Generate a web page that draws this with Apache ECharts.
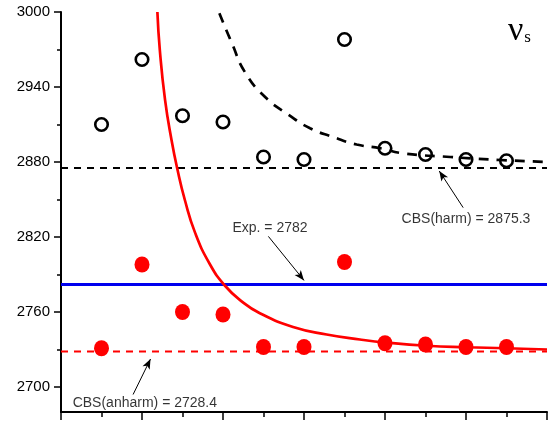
<!DOCTYPE html>
<html>
<head>
<meta charset="utf-8">
<script src="https://cdn.jsdelivr.net/npm/echarts@6/dist/echarts.min.js"></script>
<style>html,body{margin:0;padding:0;background:#fff}#c{width:553px;height:425px}</style>
</head>
<body>
<div id="c"></div>
<script>
// ---- data ----
var xIndex = [1, 2, 3, 4, 5, 6, 7, 8, 9, 10, 11];
var harmValues = [2910, 2962, 2917, 2912, 2884, 2882, 2978, 2891, 2886, 2882, 2881];
var anharmValues = [2731, 2798, 2760, 2758, 2732, 2732, 2800, 2735, 2734, 2732, 2732];
var cbsHarm = 2875.3;
var cbsAnharm = 2728.4;
var expValue = 2782;
// fitted curves [x, y]
var anharmFitX = [2.38, 2.44, 2.57, 2.73, 2.87, 3.06, 3.31, 3.68, 4.05, 4.46, 4.91, 5.73, 6.56, 7.38, 8.04, 9.03, 10.02, 11.0, 12.0];
var anharmFitY = [3000, 2969.6, 2929.5, 2897.4, 2874.8, 2849.4, 2823.5, 2798, 2781, 2768.5, 2759, 2748, 2742, 2738, 2735.5, 2733, 2731.8, 2731, 2730];
var harmFitX = [3.91, 4.22, 4.54, 5.04, 5.61, 6.15, 6.72, 7.30, 7.88, 8.44, 9.61, 10.84, 12.0];
var harmFitY = [2999, 2975, 2952, 2932, 2918, 2907, 2900, 2894, 2891, 2887, 2884, 2881.6, 2880];
var yMajorTicks = [2700, 2760, 2820, 2880, 2940, 3000];
var yMinorTicks = [2730, 2790, 2850, 2910, 2970];
var annText = ['Exp. = 2782', 'CBS(harm) = 2875.3', 'CBS(anharm) = 2728.4'];
var annTextPos = [[5.16, 2827], [10.0, 2834], [2.07, 2686.7]];
var annArrowFrom = [[5.12, 2820.5], [9.93, 2843.5], [1.78, 2694]];
var annArrowTo = [[6.0, 2785.3], [9.34, 2872.8], [2.21, 2722.4]];

function zip(a, b) { return a.map(function (v, i) { return [v, b[i]]; }); }
function hline(v) { return [[0, v], [12, v]]; }

var chart = echarts.init(document.getElementById('c'), null, { renderer: 'canvas' });
var font = 'Liberation Sans, Arial, sans-serif';

var option = {
  animation: false,
  backgroundColor: '#fff',
  grid: { left: 61, right: 6, top: 12, bottom: 13, containLabel: false },
  xAxis: {
    type: 'value', min: 0, max: 12, interval: 2,
    axisLine: { show: true, onZero: false, lineStyle: { color: '#000', width: 2 } },
    axisTick: { show: true, length: 8, lineStyle: { color: '#000', width: 1.5 } },
    minorTick: { show: true, splitNumber: 2, length: 5, lineStyle: { color: '#000', width: 1.5 } },
    axisLabel: { show: false },
    splitLine: { show: false }
  },
  yAxis: [{
    type: 'value', min: 2680, max: 3000,
    axisLine: { show: true, onZero: false, lineStyle: { color: '#000', width: 2 } },
    axisTick: { show: true, customValues: yMajorTicks, length: 7, lineStyle: { color: '#000', width: 1.5 } },
    axisLabel: { show: true, customValues: yMajorTicks, color: '#000', fontSize: 15, fontFamily: font, margin: 11,
      formatter: function (v) { return String(v); } },
    splitLine: { show: false }
  }, {
    type: 'value', min: 2680, max: 3000, position: 'left',
    axisLine: { show: false },
    axisTick: { show: true, customValues: yMinorTicks, length: 4, lineStyle: { color: '#000', width: 1.5 } },
    axisLabel: { show: false },
    splitLine: { show: false }
  }],
  series: [
    { type: 'line', data: hline(cbsHarm), symbol: 'none', z: 2,
      lineStyle: { color: '#000', width: 2, type: [7, 6] } },
    { type: 'line', data: hline(cbsAnharm), symbol: 'none', z: 2,
      lineStyle: { color: '#f00', width: 2, type: [7, 6] } },
    { type: 'line', data: hline(expValue), symbol: 'none', z: 2,
      lineStyle: { color: '#0000ee', width: 3 } },
    { type: 'line', data: zip(anharmFitX, anharmFitY), symbol: 'none', smooth: 0.5, z: 3,
      lineStyle: { color: '#f00', width: 2.7 } },
    { type: 'line', data: zip(harmFitX, harmFitY), symbol: 'none', smooth: 0.5, z: 3,
      lineStyle: { color: '#000', width: 2.7, type: [10, 8] } },
    { type: 'scatter', data: zip(xIndex, harmValues), symbol: 'circle', symbolSize: 12.5, z: 5,
      itemStyle: { color: 'rgba(0,0,0,0)', borderColor: '#000', borderWidth: 2.6, opacity: 1 } },
    { type: 'scatter', data: zip(xIndex, anharmValues), symbol: 'circle', symbolSize: [15, 16], z: 5,
      itemStyle: { color: '#f00', opacity: 1 } },
    { type: 'scatter', data: annTextPos.map(function (p, i) { return { value: p, name: annText[i] }; }),
      symbolSize: 0, silent: true, z: 6,
      label: { show: true, position: 'inside', formatter: '{b}', color: '#000', fontSize: 14, fontFamily: font },
      markLine: {
        silent: true, symbol: ['none', 'arrow'], symbolSize: [6, 10], animation: false,
        label: { show: false },
        lineStyle: { color: '#000', width: 1, type: 'solid' },
        data: annArrowFrom.map(function (p, i) { return [{ coord: p }, { coord: annArrowTo[i] }]; })
      }
    }
  ],
  graphic: [{
    type: 'text', left: 508, top: 14, z: 10,
    style: {
      text: '{n|ν}{s|s}',
      rich: {
        n: { fontSize: 34, fontFamily: 'Liberation Serif, Times New Roman, serif', fill: '#000' },
        s: { fontSize: 17, fontFamily: 'Liberation Serif, Times New Roman, serif', fill: '#000', padding: [14, 0, 0, 1] }
      }
    }
  }]
};
chart.setOption(option);
</script>
</body>
</html>
